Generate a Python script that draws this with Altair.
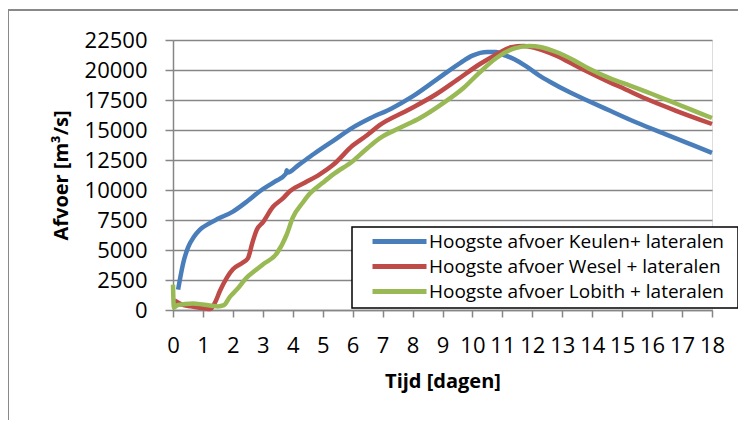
import altair as alt
import pandas as pd

series_names = [
    "Hoogste afvoer Keulen+ lateralen",
    "Hoogste afvoer Wesel + lateralen",
    "Hoogste afvoer Lobith + lateralen",
]
series_colors = ["#4A7EBB", "#BE4B48", "#98B954"]

x_ticks = list(range(0, 19))
y_ticks = list(range(0, 22501, 2500))

keulen_days = [0.17, 0.25, 0.34, 0.5, 0.7, 0.9, 1.2, 1.5, 2.0, 2.5, 2.9, 3.4, 3.77, 3.8, 3.83,
               4.2, 4.7, 5.35, 6.0, 6.6, 7.3, 8.0, 8.8, 9.6, 10.0, 10.5, 10.8, 11.0, 11.4,
               11.8, 12.2, 12.6, 13.2, 13.8, 14.6, 15.5, 16.5, 17.3, 18.0]
keulen_values = [1700, 2800, 3900, 5200, 6100, 6700, 7200, 7600, 8200, 9100, 9900, 10700, 11350, 11650, 11450,
                 12100, 13000, 14100, 15200, 16000, 16800, 17800, 19200, 20600, 21200, 21500, 21500, 21300, 20900,
                 20300, 19600, 19000, 18200, 17500, 16600, 15600, 14600, 13800, 13100]

wesel_days = [0.05, 0.3, 0.6, 1.0, 1.25, 1.4, 1.57, 1.8, 2.0, 2.3, 2.5, 2.65, 2.8, 3.0, 3.34,
              3.67, 3.9, 4.4, 4.9, 5.35, 6.0, 6.5, 6.9, 7.8, 8.8, 9.5, 10.25, 10.8, 11.3,
              11.7, 12.0, 12.4, 12.8, 13.5, 14.4, 15.1, 15.8, 16.8, 18.0]
wesel_values = [800, 450, 300, 150, 80, 600, 1600, 2700, 3400, 3900, 4300, 5600, 6700, 7300, 8600,
                9300, 9900, 10600, 11300, 12100, 13700, 14600, 15400, 16600, 18000, 19200, 20500, 21300, 21900,
                22000, 21900, 21600, 21200, 20300, 19200, 18400, 17600, 16600, 15500]

lobith_days = [0.0, 0.03, 0.15, 0.4, 0.67, 1.0, 1.3, 1.5, 1.7, 1.9, 2.13, 2.46, 2.7, 3.0, 3.46,
               3.8, 4.0, 4.35, 4.57, 5.0, 5.35, 6.0, 6.5, 6.9, 7.6, 8.25, 9.0, 9.7, 10.2,
               10.8, 11.4, 11.9, 12.3, 12.8, 13.4, 13.9, 14.6, 15.26, 16.0, 16.6, 17.3, 18.0]
lobith_values = [2100, 200, 400, 500, 550, 450, 350, 300, 400, 1100, 1700, 2700, 3200, 3800, 4700,
                 6300, 7700, 9000, 9700, 10600, 11300, 12400, 13500, 14300, 15200, 16000, 17200, 18500, 19700,
                 21000, 21800, 22000, 21900, 21500, 20800, 20100, 19300, 18700, 18000, 17400, 16700, 16000]

rows = []
for name, days, vals in zip(series_names,
                            [keulen_days, wesel_days, lobith_days],
                            [keulen_values, wesel_values, lobith_values]):
    for i, (d, v) in enumerate(zip(days, vals)):
        rows.append({"serie": name, "dag": d, "afvoer": v, "idx": i})
df = pd.DataFrame(rows)

FONT = "Open Sans"
GRID = "#868686"

color = alt.Color(
    "serie:N",
    scale=alt.Scale(domain=series_names, range=series_colors),
    legend=alt.Legend(
        title=None,
        orient="none",
        legendX=197,
        legendY=190,
        direction="vertical",
        symbolType="M-1,0H5",
        symbolSize=324,
        symbolStrokeWidth=5,
        symbolFillColor="transparent",
        labelFont=FONT,
        labelFontSize=19,
        labelColor="black",
        labelLimit=500,
        labelOffset=36,
        padding=0,
        rowPadding=3,
    ),
)

x_enc = alt.X(
    "dag:Q",
    scale=alt.Scale(domain=[0, 18], nice=False),
    axis=alt.Axis(
        values=x_ticks, format="d", grid=False, tickSize=7, tickColor=GRID, tickWidth=1.5,
        domainColor=GRID, domainWidth=1.5, labelFont=FONT, labelFontSize=22, labelColor="black",
        labelPadding=18, labelOverlap=False, labelFlush=False,
        title="Tijd [dagen]", titleFont=FONT, titleFontSize=20, titleFontWeight="bold",
        titleColor="black", titlePadding=15,
    ),
)
y_enc = alt.Y(
    "afvoer:Q",
    scale=alt.Scale(domain=[0, 22500], nice=False),
    axis=alt.Axis(
        values=y_ticks, format="d", grid=True, gridColor=GRID, gridWidth=1.5, tickSize=8,
        tickColor=GRID, tickWidth=1.5, domainColor=GRID, domainWidth=1.5, labelFont=FONT,
        labelFontSize=22, labelColor="black", labelPadding=18, labelOverlap=False,
        title="Afvoer [m³/s]", titleFont=FONT, titleFontSize=20, titleFontWeight="bold",
        titleColor="black", titlePadding=13,
    ),
)

one = pd.DataFrame({"f": [0]})

frame = alt.Chart(one).mark_rect(
    fill="white", fillOpacity=0, stroke="#898989", strokeWidth=2
).encode(x=alt.value(-165), x2=alt.value(2000), y=alt.value(-30), y2=alt.value(2000))

legend_box = alt.Chart(one).mark_rect(
    fill="white", stroke="black", strokeWidth=1.5
).encode(x=alt.value(179), x2=alt.value(565), y=alt.value(187), y2=alt.value(268))

lines = []
for name in series_names:
    lines.append(
        alt.Chart(df)
        .transform_filter(alt.datum.serie == name)
        .mark_line(strokeWidth=4.5, interpolate="monotone")
        .encode(x=x_enc, y=y_enc, color=color, order="idx:Q")
    )

chart = alt.layer(frame, *lines, legend_box).properties(
    width=539,
    height=270,
    autosize=alt.AutoSizeParams(type="none"),
    padding={"left": 165, "top": 32, "right": 26, "bottom": 110},
).configure_view(stroke=None).configure(background="white")

chart.save("out.html", embed_options={"renderer": "svg", "actions": False})
